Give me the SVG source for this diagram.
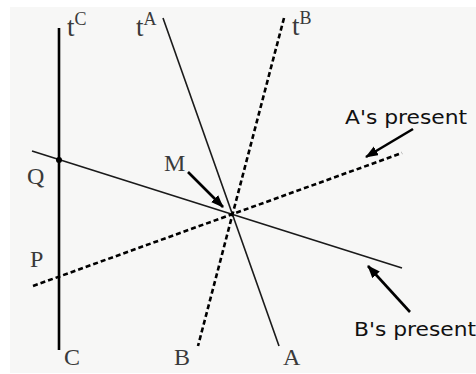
<svg xmlns="http://www.w3.org/2000/svg" width="476" height="374" viewBox="0 0 476 374">
<defs>
<style>
.bg{fill:#f7f7f6}
.thin{stroke:#1a1a1a;stroke-width:1.6;fill:none}
.thick{stroke:#000;stroke-width:2.6;fill:none}
.dash{stroke:#000;stroke-width:2.6;fill:none;stroke-dasharray:5 3}
.arrow{stroke:#000;stroke-width:2.6;fill:none;marker-end:url(#ah)}
.serif{font-family:"Liberation Serif","Times New Roman",serif;fill:#3a3a3a}
.sans{font-family:"DejaVu Sans",Verdana,sans-serif;fill:#111;font-size:20px}
</style>
<marker id="ah" markerUnits="userSpaceOnUse" markerWidth="14" markerHeight="12" refX="12" refY="5" orient="auto">
<path d="M0,0 L13,5 L0,10 Z" fill="#000"/>
</marker>
</defs>
<rect x="0" y="0" width="476" height="374" fill="#fff"/>
<rect class="bg" x="10" y="7" width="466" height="366"/>
<g id="connectors">
<line class="thick" x1="59" y1="28" x2="59" y2="350"/>
<line class="thin" x1="163" y1="18" x2="279" y2="346"/>
<line class="dash" x1="284" y1="18" x2="198" y2="346"/>
<line class="thin" x1="32" y1="151" x2="402" y2="268"/>
<line class="dash" x1="33" y1="286" x2="402" y2="153"/>
<circle cx="59" cy="160" r="3" fill="#000"/>
<line class="arrow" x1="188" y1="172" x2="223" y2="207"/>
<line class="arrow" x1="413" y1="129" x2="366" y2="157"/>
<line class="arrow" x1="410" y1="312" x2="368" y2="266"/>
</g>
<g id="label-tC"><text class="serif" x="67" y="36" font-size="27">t<tspan dy="-11" font-size="18">C</tspan></text></g>
<g id="label-tA"><text class="serif" x="136" y="36" font-size="27">t<tspan dy="-11" font-size="18">A</tspan></text></g>
<g id="label-tB"><text class="serif" x="292" y="35" font-size="27">t<tspan dy="-11" font-size="18">B</tspan></text></g>
<g id="label-Q"><text class="serif" x="27" y="184" font-size="24">Q</text></g>
<g id="label-P"><text class="serif" x="30" y="267" font-size="24">P</text></g>
<g id="label-M"><text class="serif" x="164" y="171" font-size="24">M</text></g>
<g id="label-C"><text class="serif" x="64" y="365" font-size="24">C</text></g>
<g id="label-B"><text class="serif" x="174" y="365" font-size="24">B</text></g>
<g id="label-A"><text class="serif" x="283" y="365" font-size="24">A</text></g>
<g id="label-Apresent"><text class="sans" x="345" y="124" textLength="122" lengthAdjust="spacingAndGlyphs">A's present</text></g>
<g id="label-Bpresent"><text class="sans" x="354" y="336" textLength="122" lengthAdjust="spacingAndGlyphs">B's present</text></g>
</svg>
